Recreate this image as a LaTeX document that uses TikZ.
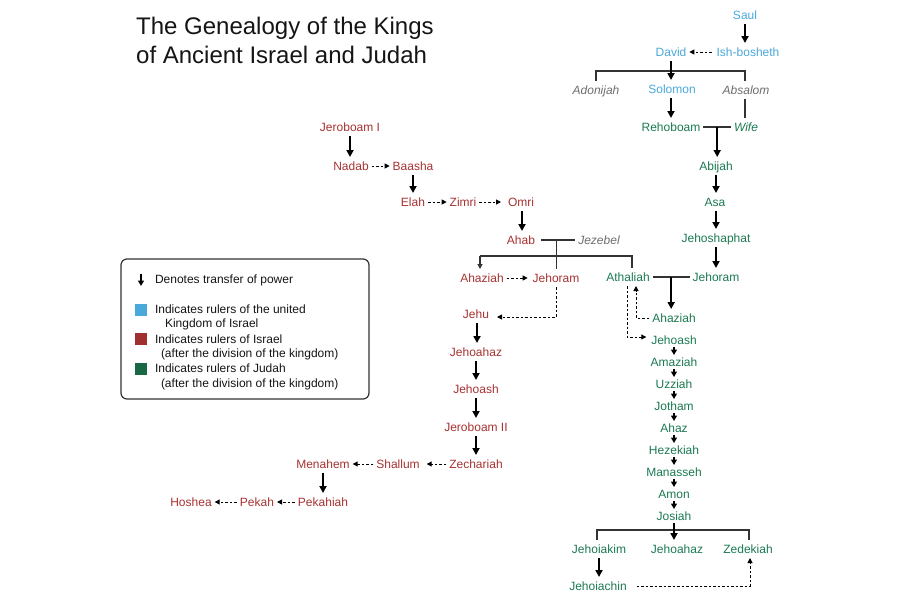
\documentclass[tikz,border=0pt]{standalone}
\usepackage{fontspec}
\setmainfont{Liberation Sans}
\usetikzlibrary{arrows.meta,calc}
\definecolor{ublue}{HTML}{4AA9DB}
\definecolor{ired}{HTML}{A83232}
\definecolor{jgreen}{HTML}{1C7A52}
\definecolor{pgray}{HTML}{6E6E6E}
\definecolor{lnc}{HTML}{333333}
\definecolor{txt}{HTML}{151515}
\begin{document}
\begin{tikzpicture}[x=1pt,y=-1pt,
 nm/.style={font=\fontsize{12}{14}\selectfont, inner sep=0pt, outer sep=3pt, text height=10pt, text depth=2pt},
 un/.style={nm, text=ublue},
 is/.style={nm, text=ired},
 ju/.style={nm, text=jgreen},
 jus/.style={ju, outer sep=1pt},
 ot/.style={nm, text=pgray, font=\fontsize{12}{14}\selectfont\itshape},
 lg/.style={nm, text=txt, anchor=west, outer sep=0pt},
 pw/.style={line width=2pt, -{Triangle[length=7pt,width=7pt]}},
 pws/.style={line width=1.8pt, -{Triangle[length=5.5pt,width=6pt]}},
 dsh/.style={line width=1pt, dash pattern=on 2.5pt off 2pt, -{Triangle[length=5pt,width=5pt]}},
 fam/.style={line width=1.2pt, draw=lnc},
 sq/.style={minimum size=12pt, inner sep=0pt}]
\fill[white] (0,0) rectangle (900,600);
\useasboundingbox (0,0) rectangle (900,600);
% title
\node[anchor=base west, font=\fontsize{24}{28}\selectfont, text=txt, inner sep=0pt] (t1) at (136,34) {The Genealogy of the Kings};
\node[anchor=base west, font=\fontsize{24}{28}\selectfont, text=txt, inner sep=0pt] (t2) at (136,63) {of Ancient Israel and Judah};
% united kingdom
\node[un] (saul) at (745,15) {Saul};
\node[un] (david) at (671,52) {David};
\node[un] (ish) at (748,52) {Ish-bosheth};
\node[ot] (adonijah) at (596,90) {Adonijah};
\node[un] (solomon) at (672,89) {Solomon};
\node[ot] (absalom) at (746,90) {Absalom};
% Judah
\node[ju] (reho) at (671,127) {Rehoboam};
\node[ot, text=jgreen] (wife) at (746,127) {Wife};
\node[ju] (abijah) at (716,166) {Abijah};
\node[ju] (asa) at (715,202) {Asa};
\node[ju] (jehosh) at (716,238) {Jehoshaphat};
\node[ju] (jehoramJ) at (716,277) {Jehoram};
\node[ju] (athaliah) at (628,277) {Athaliah};
\node[ju] (ahaziahJ) at (674,318) {Ahaziah};
\node[jus] (jehoashJ) at (674,340) {Jehoash};
\node[jus] (amaziah) at (674,362) {Amaziah};
\node[jus] (uzziah) at (674,384) {Uzziah};
\node[jus] (jotham) at (674,406) {Jotham};
\node[jus] (ahaz) at (674,428) {Ahaz};
\node[jus] (hezekiah) at (674,450) {Hezekiah};
\node[jus] (manasseh) at (674,472) {Manasseh};
\node[jus] (amon) at (674,494) {Amon};
\node[jus] (josiah) at (674,516) {Josiah};
\node[ju] (jehoiakim) at (599,549) {Jehoiakim};
\node[ju] (jehoahazJ) at (677,549) {Jehoahaz};
\node[ju] (zedekiah) at (748,549) {Zedekiah};
\node[ju] (jehoiachin) at (598,586) {Jehoiachin};
% Israel
\node[is] (jeroboam) at (350,127) {Jeroboam I};
\node[is] (nadab) at (351,166) {Nadab};
\node[is] (baasha) at (413,166) {Baasha};
\node[is] (elah) at (413,202) {Elah};
\node[is] (zimri) at (463,202) {Zimri};
\node[is] (omri) at (521,202) {Omri};
\node[is] (ahab) at (521,240) {Ahab};
\node[ot] (jezebel) at (599,240) {Jezebel};
\node[is] (ahaziahI) at (482,278) {Ahaziah};
\node[is] (jehoramI) at (556,278) {Jehoram};
\node[is] (jehu) at (476,314) {Jehu};
\node[is] (jehoahazI) at (476,352) {Jehoahaz};
\node[is] (jehoashI) at (476,389) {Jehoash};
\node[is] (jeroboam2) at (476,427) {Jeroboam II};
\node[is] (zechariah) at (476,464) {Zechariah};
\node[is] (shallum) at (398,464) {Shallum};
\node[is] (menahem) at (323,464) {Menahem};
\node[is] (pekahiah) at (323,502) {Pekahiah};
\node[is] (pekah) at (257,502) {Pekah};
\node[is] (hoshea) at (191,502) {Hoshea};
% united kingdom connectors
\draw[pw] (saul.south) -- (saul.south |- ish.north);
\draw[dsh, shorten <=2pt] (ish.west) -- (david.east);
\coordinate (db) at (671,71);
\draw[fam] (adonijah.north) -- (adonijah.north |- db) -- ([xshift=-1pt]absalom.north |- db) -- ([xshift=-1pt]absalom.north);
\draw[pw] (david.south) -- (david.south |- solomon.north);
\draw[pw] ([xshift=-1pt]solomon.south) -- ([xshift=-1pt]solomon.south |- reho.north);
\draw[fam] ([xshift=-1pt]absalom.south) -- ([xshift=-1pt]absalom.south |- wife.north);
% Judah connectors
\draw[fam] (reho.east) -- (wife.west);
\coordinate (rw) at ($(reho.east)!0.5!(wife.west)$);
\draw[pw] (rw) -- (rw |- abijah.north);
\draw[pw] (abijah.south) -- (abijah.south |- asa.north);
\draw[pw] ([xshift=1pt]asa.south) -- ([xshift=1pt]asa.south |- jehosh.north);
\draw[pw] (jehosh.south) -- (jehosh.south |- jehoramJ.north);
\draw[fam] (athaliah.east) -- (jehoramJ.west);
\coordinate (aj) at ($(athaliah.east)!0.5!(jehoramJ.west)$);
\draw[pw] (aj) -- (aj |- ahaziahJ.north);
\draw[dsh] (ahaziahJ.west) -| ([xshift=8pt]athaliah.south);
\draw[dsh, shorten >=4pt] ([xshift=-1pt]athaliah.south) |- ([yshift=3pt]jehoashJ.west);
\foreach \a/\b in {jehoashJ/amaziah, amaziah/uzziah, uzziah/jotham, jotham/ahaz, ahaz/hezekiah, hezekiah/manasseh, manasseh/amon, amon/josiah}
  \draw[pws] (\a.south) -- (\a.south |- \b.north);
\coordinate (jb) at (674,530);
\draw[fam] ([xshift=-2pt]jehoiakim.north) -- ([xshift=-2pt]jehoiakim.north |- jb) -- ([xshift=1pt]zedekiah.north |- jb) -- ([xshift=1pt]zedekiah.north);
\draw[pw] (josiah.south) -- (josiah.south |- jehoahazJ.north);
\draw[pw] (jehoiakim.south) -- (jehoiakim.south |- jehoiachin.north);
\draw[dsh, shorten <=7pt] (jehoiachin.east) -| ([xshift=2pt]zedekiah.south);
% Israel connectors
\draw[pw] (jeroboam.south) -- (jeroboam.south |- nadab.north);
\draw[dsh] (nadab.east) -- (baasha.west);
\draw[pw] (baasha.south) -- (baasha.south |- elah.north);
\draw[dsh] (elah.east) -- (zimri.west);
\draw[dsh, shorten >=4pt] (zimri.east) -- (omri.west);
\draw[pw] ([xshift=1pt]omri.south) -- ([xshift=1pt]omri.south |- ahab.north);
\draw[fam, shorten <=3pt] (ahab.east) -- (jezebel.west);
\coordinate (az) at ($(ahab.east)!0.5!(jezebel.west)$);
\draw[fam] (az) -- (az |- jehoramI.north);
\coordinate (ab) at (556,256);
\draw[fam] ([xshift=4pt]athaliah.north) -- ([xshift=4pt]athaliah.north |- ab) -- ([xshift=-2pt]ahaziahI.north |- ab);
\draw[fam, -{Triangle[length=5pt,width=5pt]}] ([xshift=-2pt]ahaziahI.north |- ab) -- ([xshift=-2pt]ahaziahI.north);
\draw[dsh, shorten >=2pt] (ahaziahI.east) -- (jehoramI.west);
\draw[dsh, shorten >=5pt] (jehoramI.south) |- ([yshift=-3pt]jehu.east);
\draw[pw] ([xshift=1pt]jehu.south) -- ([xshift=1pt]jehu.south |- jehoahazI.north);
\draw[pw] (jehoahazI.south) -- (jehoahazI.south |- jehoashI.north);
\draw[pw] (jehoashI.south) -- (jehoashI.south |- jeroboam2.north);
\draw[pw] (jeroboam2.south) -- (jeroboam2.south |- zechariah.north);
\draw[dsh, shorten >=4pt] (zechariah.west) -- (shallum.east);
\draw[dsh] (shallum.west) -- (menahem.east);
\draw[pw] (menahem.south) -- (menahem.south |- pekahiah.north);
\draw[dsh] (pekahiah.west) -- (pekah.east);
\draw[dsh] (pekah.west) -- (hoshea.east);
% legend
\node[draw=lnc, line width=1.2pt, rounded corners=6pt, minimum width=248pt, minimum height=140pt, inner sep=0pt] (legend) at (245,329) {};
\coordinate (la) at (141,274);
\coordinate (lb) at (141,286);
\draw[pws] (la) -- (lb);
\node[lg] (l1) at (155,279) {Denotes transfer of power};
\node[sq, fill=ublue] (sq1) at (141,310) {};
\node[lg] (l2) at (155,309) {Indicates rulers of the united};
\node[lg] (l3) at (165,323) {Kingdom of Israel};
\node[sq, fill=ired!95!black] (sq2) at (141,339) {};
\node[lg] (l4) at (155,339) {Indicates rulers of Israel};
\node[lg] (l5) at (161,353) {(after the division of the kingdom)};
\node[sq, fill=jgreen!85!black] (sq3) at (141,369) {};
\node[lg] (l6) at (155,368) {Indicates rulers of Judah};
\node[lg] (l7) at (161,383) {(after the division of the kingdom)};
\end{tikzpicture}
\end{document}
